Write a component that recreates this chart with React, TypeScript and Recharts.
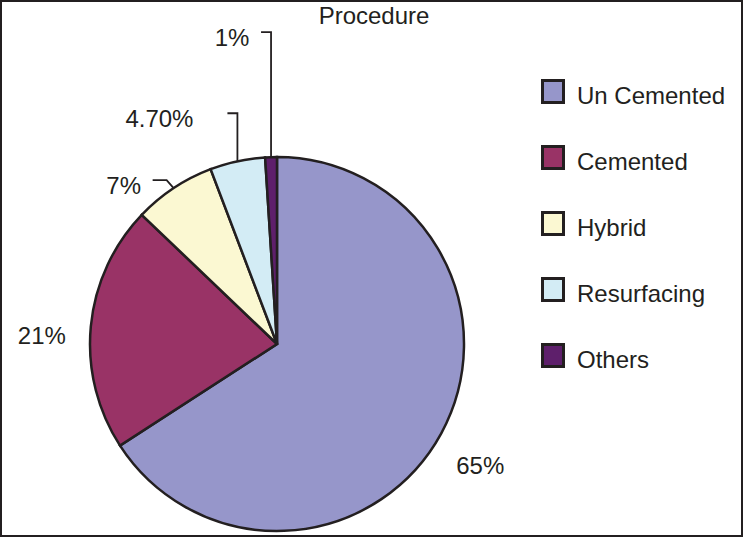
import { PieChart, Pie, Cell, Legend } from 'recharts';

// Procedure share data
const categories = ['Un Cemented', 'Cemented', 'Hybrid', 'Resurfacing', 'Others'];
const shares = [65, 21, 7, 4.7, 1];
const shareLabels = ['65%', '21%', '7%', '4.70%', '1%'];
const colors = ['#9696ca', '#993366', '#fbf8d2', '#d3ecf5', '#5e1f6b'];

const INK = '#231f20';
const FONT = '"Liberation Sans", Arial, sans-serif';

const data = categories.map((name, i) => ({ name, value: shares[i] }));

// label placement relative to the slice's outer edge point (leader lines for the small slices)
const labelLayout: Array<{ text: [number, number]; bend?: [number, number]; tick?: number }> = [
  { text: [39, 32] },
  { text: [-49, 9] },
  { bend: [-7, -8], tick: 14, text: [-50, -3] },
  { bend: [0, -48], tick: 10, text: [-78, -43] },
  { bend: [0, -125], tick: 10, text: [-39, -120] },
];

const RAD = Math.PI / 180;

function renderLabel(props: any) {
  const { cx, cy, midAngle, outerRadius, index } = props;
  const ex = cx + outerRadius * Math.cos(-midAngle * RAD);
  const ey = cy + outerRadius * Math.sin(-midAngle * RAD);
  const cfg = labelLayout[index];
  const tx = ex + cfg.text[0];
  const ty = ey + cfg.text[1];
  let leader = null;
  if (cfg.bend) {
    const bx = ex + cfg.bend[0];
    const by = ey + cfg.bend[1];
    leader = (
      <polyline
        points={`${ex},${ey} ${bx},${by} ${bx - (cfg.tick || 10)},${by}`}
        fill="none"
        stroke={INK}
        strokeWidth={1.8}
      />
    );
  }
  return (
    <g key={`lbl-${index}`}>
      {leader}
      <text
        x={tx}
        y={ty}
        textAnchor="middle"
        dominantBaseline="central"
        fill={INK}
        style={{ fontSize: 24, fontFamily: FONT }}
      >
        {shareLabels[index]}
      </text>
    </g>
  );
}

function LegendContent() {
  return (
    <div style={{ fontFamily: FONT }}>
      {categories.map((name, i) => (
        <div key={name} style={{ display: 'flex', alignItems: 'flex-start', height: 66 }}>
          <div
            style={{
              width: 24,
              height: 25,
              boxSizing: 'border-box',
              border: `3px solid ${INK}`,
              background: colors[i],
            }}
          />
          <span
            style={{
              marginLeft: 12,
              marginTop: 5,
              lineHeight: '24px',
              fontSize: 24,
              color: INK,
              whiteSpace: 'nowrap',
            }}
          >
            {name}
          </span>
        </div>
      ))}
    </div>
  );
}

export default function App() {
  return (
    <div
      style={{
        position: 'absolute',
        left: 0,
        top: 0,
        width: 743,
        height: 537,
        boxSizing: 'border-box',
        border: `2px solid ${INK}`,
        background: '#fff',
        overflow: 'hidden',
      }}
    >
      {/* Title */}
      <div
        style={{
          position: 'absolute',
          left: 260,
          width: 224,
          top: 0,
          textAlign: 'center',
          fontFamily: FONT,
          fontSize: 24,
          lineHeight: '28px',
          color: INK,
        }}
      >
        Procedure
      </div>

      <div style={{ position: 'absolute', left: -2, top: -2 }}>
        <PieChart width={743} height={537} margin={{ top: 0, right: 0, bottom: 0, left: 0 }}>
          <Pie
            data={data}
            dataKey="value"
            nameKey="name"
            cx={277}
            cy={344}
            outerRadius={187}
            startAngle={90}
            endAngle={-270}
            stroke={INK}
            strokeWidth={2.5}
            label={renderLabel}
            labelLine={false}
            isAnimationActive={false}
          >
            {data.map((d, i) => (
              <Cell key={d.name} fill={colors[i]} />
            ))}
          </Pie>
          <Legend
            layout="vertical"
            align="right"
            verticalAlign="top"
            content={<LegendContent />}
            wrapperStyle={{ left: 541, top: 79, width: 200 }}
          />
        </PieChart>
      </div>
    </div>
  );
}
